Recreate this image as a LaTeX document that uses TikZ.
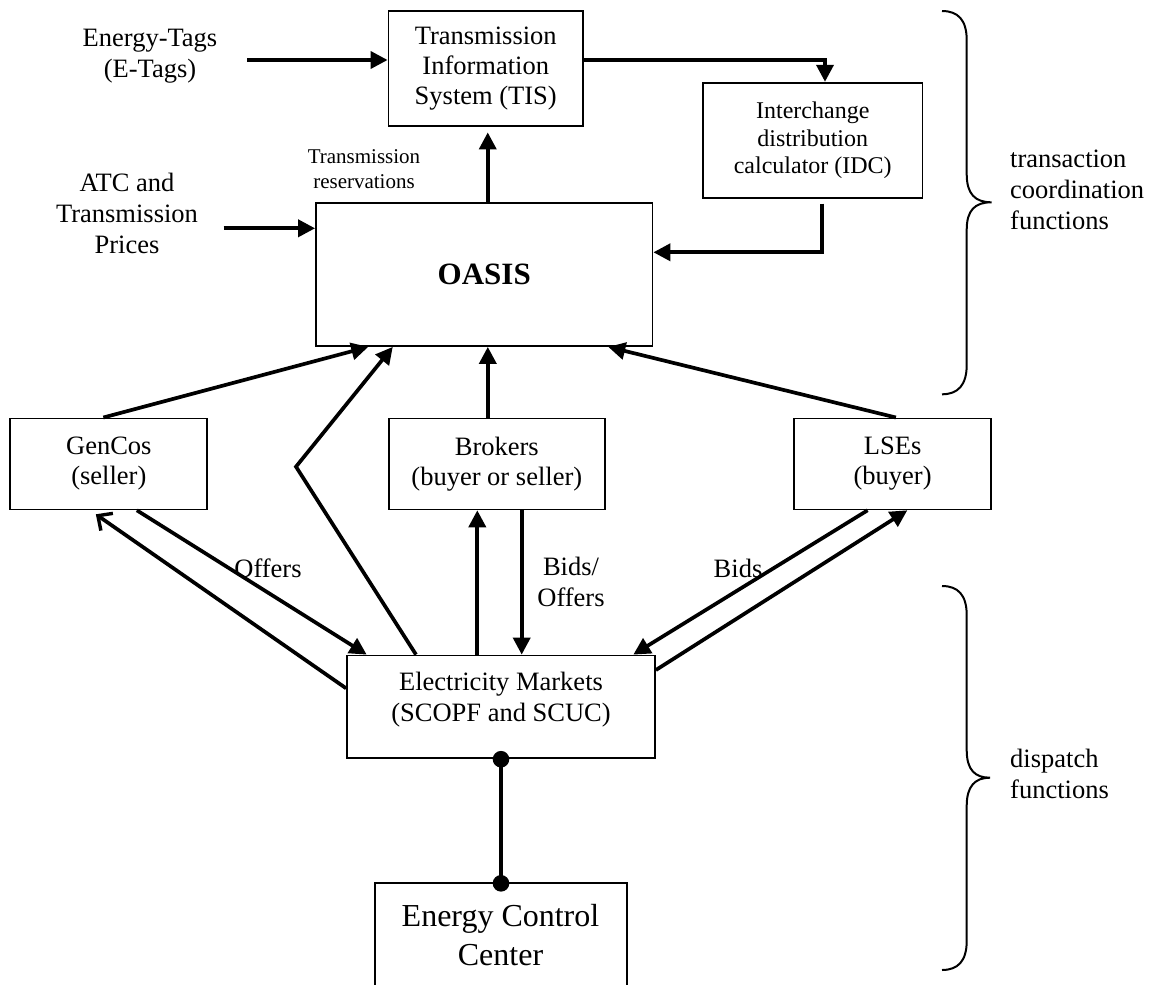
\documentclass[tikz,border=0pt]{standalone}
\usepackage{fontspec}
\setmainfont{Liberation Serif}
\usetikzlibrary{arrows.meta}
\begin{document}
\begin{tikzpicture}[x=1pt,y=-1pt,
  box/.style={draw, line width=1.8pt, rectangle, inner sep=0pt, align=center,
              font=\fontsize{26.5}{30}\selectfont},
  txt/.style={align=center, inner sep=0pt, font=\fontsize{26.5}{31}\selectfont},
  flow/.style={line width=3.7pt, -{Triangle[length=17pt,width=17pt]}},
  backflow/.style={line width=3.7pt, -{Straight Barb[length=11pt,width=21pt,line width=3.4pt]}},
  link/.style={line width=3.7pt},
  brace/.style={line width=2pt}]
\useasboundingbox (0,0) rectangle (1157,985);

% ---- boxes ----
\node[box, minimum width=194.5pt, minimum height=115pt] (TIS) at (485.75,68.5)
  {Transmission\\Information\\System (TIS)};
\node[box, minimum width=219.5pt, minimum height=115.3pt,
      font=\fontsize{24}{27.5}\selectfont] (IDC) at (812.75,140.35)
  {Interchange\\distribution\\calculator (IDC)};
\node[box, minimum width=336.5pt, minimum height=143pt,
      font=\fontsize{31}{36}\selectfont\bfseries] (OASIS) at (484.25,274.5) {OASIS};
\node[box, minimum width=197pt, minimum height=91pt] (GEN) at (108.85,463.9)
  {GenCos\\(seller)};
\node[box, minimum width=216.4pt, minimum height=91pt] (BRK) at (496.8,463.9)
  {Brokers\\(buyer or seller)};
\node[box, minimum width=196.8pt, minimum height=91pt] (LSE) at (892.6,463.9)
  {LSEs\\(buyer)};
\node[box, minimum width=308pt, minimum height=102.8pt] (EM) at (501,706.9) {};
\node[txt] (EMtext) at (501,700) {Electricity Markets\\(SCOPF and SCUC)};

% energy control center: box open at the lower edge
\node[txt, font=\fontsize{32}{38.5}\selectfont] (ECC) at (500.5,935)
  {Energy Control\\Center};
\coordinate (ECCtl) at (375,883.3);
\coordinate (ECCtr) at (626.7,883.3);
\draw[line width=1.8pt] (ECCtl |- 0,985) -- (ECCtl) -- (ECCtr) -- (ECCtr |- 0,985);

% ---- free labels ----
\node[txt] (ETAG) at (150,56) {Energy-Tags\\(E-Tags)};
\node[txt] (ATC) at (127,213) {ATC and\\Transmission\\Prices};
\node[txt, font=\fontsize{21}{25}\selectfont] (RES) at (364,169)
  {Transmission\\reservations};
\node[txt] (OFF) at (268,568) {Offers};
\node[txt] (BO) at (571,582) {Bids/\\Offers};
\node[txt] (BID) at (738,568) {Bids};
\node[txt, anchor=west, align=left] (TCF) at (1010,190)
  {transaction\\coordination\\functions};
\node[txt, anchor=west, align=left] (DF) at (1010,774)
  {dispatch\\functions};

% ---- connectors, top part ----
\coordinate (etag) at (247,60);
\draw[flow] (etag) -- (etag -| TIS.west);
\coordinate (atc) at (223.5,228.3);
\draw[flow] (atc) -- (atc -| OASIS.west);
\draw[flow, shorten >=5.5pt] ([xshift=3.5pt]OASIS.north) -- ([xshift=3.5pt]OASIS.north |- TIS.south);
\draw[flow] ([yshift=8.5pt]TIS.east) -| ([xshift=12.25pt]IDC.north);
\draw[flow] ([xshift=9.25pt,yshift=-4.7pt]IDC.south) |- ([yshift=22.2pt]OASIS.east);

% ---- connectors into OASIS ----
\draw[flow] ([xshift=-5.5pt]GEN.north) -- ([xshift=-116pt]OASIS.south);
\coordinate (bend) at (296,466.7);
\draw[flow] ([xshift=-85pt]EM.north) -- (bend) -- ([xshift=-91.5pt]OASIS.south);
\draw[flow] ([xshift=-9pt]BRK.north) -- ([xshift=-9pt]BRK.north |- OASIS.south);
\draw[flow] ([xshift=3.3pt]LSE.north) -- ([xshift=124pt]OASIS.south);

% ---- connectors with the electricity markets ----
\draw[flow] ([xshift=28pt]GEN.south) -- ([xshift=-134.3pt]EM.north);
\draw[backflow] ([yshift=18.6pt]EM.west) -- ([xshift=-13pt,yshift=-4pt]GEN.south);
\draw[flow] ([xshift=-23.7pt]EM.north) -- ([xshift=-23.7pt]EM.north |- BRK.south);
\draw[flow] ([xshift=24.9pt]BRK.south) -- ([xshift=24.9pt]BRK.south |- EM.north);
\draw[flow] ([xshift=-25pt]LSE.south) -- ([xshift=132.3pt]EM.north);
\draw[flow] ([yshift=36.9pt]EM.east) -- ([xshift=14.7pt]LSE.south);

% ---- link to the control center ----
\coordinate (dotA) at (EM.south);
\coordinate (dotB) at (EM.south |- ECCtl);
\draw[link] (dotA) -- (dotB);
\fill (dotA) circle (8.3pt);
\fill (dotB) circle (8.3pt);

% ---- braces ----
\draw[brace] (942,11) .. controls (958,11) and (966.7,20) .. (966.7,40)
  -- (966.7,174) .. controls (966.7,194) and (975,202.3) .. (991.5,202.3)
  .. controls (975,202.3) and (966.7,210) .. (966.7,230)
  -- (966.7,365) .. controls (966.7,385) and (958,394.3) .. (942,394.3);
\draw[brace] (942,586) .. controls (958,586) and (966.7,595) .. (966.7,615)
  -- (966.7,750) .. controls (966.7,770) and (975,777.7) .. (990,777.7)
  .. controls (975,777.7) and (966.7,786) .. (966.7,806)
  -- (966.7,941) .. controls (966.7,961) and (958,970) .. (942,970);
\end{tikzpicture}
\end{document}
